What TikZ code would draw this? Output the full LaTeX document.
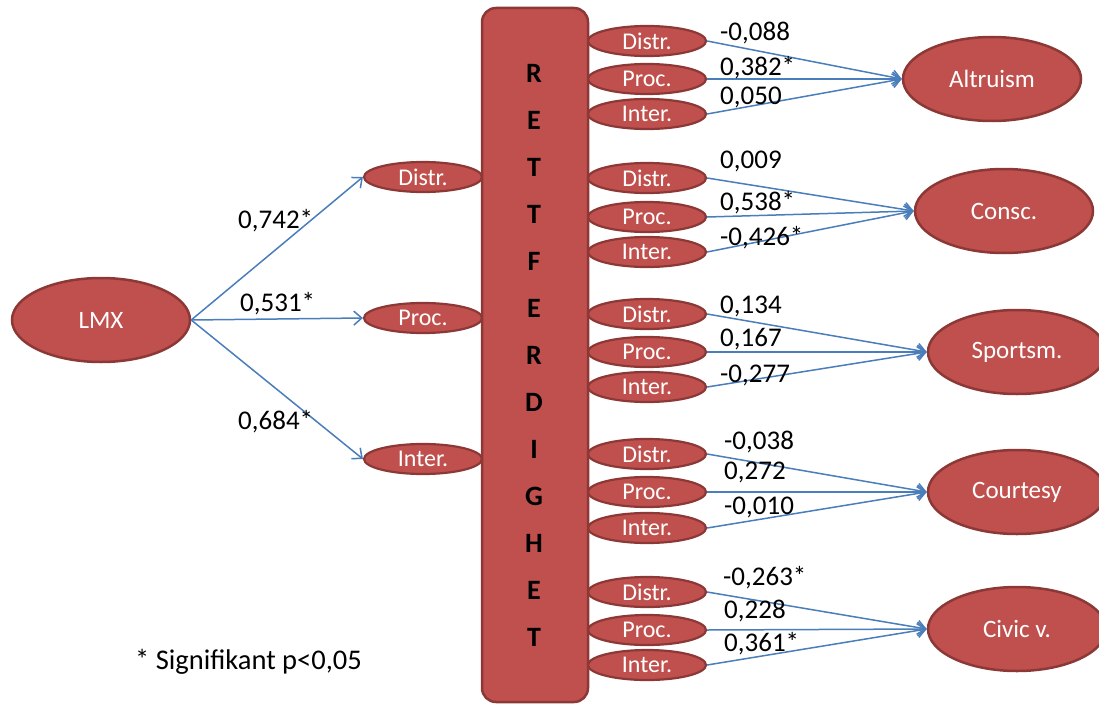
\documentclass[tikz,border=0pt]{standalone}
\usepackage{fontspec}
\setmainfont{Carlito}
\usetikzlibrary{shapes.geometric,arrows.meta}
\definecolor{redfill}{HTML}{C0504D}
\definecolor{redline}{HTML}{8C3836}
\definecolor{arrowblue}{HTML}{4A7EBB}
\tikzset{
 big/.style={ellipse, draw=redline, line width=2.5pt, fill=redfill, minimum width=178pt, minimum height=84pt, inner sep=0pt, text=white, font=\fontsize{25}{29}\selectfont},
 small/.style={ellipse, draw=redline, line width=2.2pt, fill=redfill, minimum width=118pt, minimum height=30pt, inner sep=0pt, text=white, font=\fontsize{24}{28}\selectfont},
 conn/.style={draw=arrowblue, line width=1.5pt, -{Straight Barb[length=8pt,width=14pt]}},
 val/.style={anchor=west, inner sep=0pt, font=\fontsize{27}{31}\selectfont},
 letter/.style={font=\bfseries\fontsize{28}{32}\selectfont, inner sep=0pt}
}
\begin{document}
\begin{tikzpicture}[x=1pt,y=-1pt]
\useasboundingbox (0,0) rectangle (1099,706);
% central box
\node[draw=redline, line width=2.5pt, fill=redfill, rounded corners=14pt, minimum width=106pt, minimum height=694pt, inner sep=0pt] (box) at (535,355) {};
\foreach \ch [count=\i from 0] in {R,E,T,T,F,E,R,D,I,G,H,E,T}
  \node[letter] (let\i) at (534,73+47*\i) {\ch};
% left part
\node[big] (lmx) at (101,320) {LMX};
\node[small] (ld) at (423,177) {Distr.};
\node[small] (lp) at (423,318) {Proc.};
\node[small] (li) at (423,459) {Inter.};
\draw[conn] (lmx.east) -- (ld.west);
\draw[conn] (lmx.east) -- (lp.west);
\draw[conn] (lmx.east) -- (li.west);
\node[val] (v1) at (238,221) {0,742*};
\node[val] (v2) at (240,304) {0,531*};
\node[val] (v3) at (238,422) {0,684*};
% targets
\node[big] (alt) at (992,79) {Altruism};
\node[big] (con) at (1004,211) {Consc.};
\node[big] (spo) at (1017,352) {Sportsm.};
\node[big] (cou) at (1017,492) {Courtesy};
\node[big] (civ) at (1017,629) {Civic v.};
% right small ellipses
\node[small] (d1) at (647,41) {Distr.};
\node[small] (p1) at (647,79) {Proc.};
\node[small] (i1) at (647,114) {Inter.};
\node[small] (d2) at (647,178) {Distr.};
\node[small] (p2) at (647,217) {Proc.};
\node[small] (i2) at (647,252) {Inter.};
\node[small] (d3) at (647,314) {Distr.};
\node[small] (p3) at (647,352) {Proc.};
\node[small] (i3) at (647,387) {Inter.};
\node[small] (d4) at (647,454) {Distr.};
\node[small] (p4) at (647,492) {Proc.};
\node[small] (i4) at (647,528) {Inter.};
\node[small] (d5) at (647,592) {Distr.};
\node[small] (p5) at (647,630) {Proc.};
\node[small] (i5) at (647,665) {Inter.};
% connectors
\foreach \n/\t in {1/alt,2/con,3/spo,4/cou,5/civ}{
  \draw[conn] (d\n.east) -- (\t.west);
  \draw[conn] (p\n.east) -- (\t.west);
  \draw[conn] (i\n.east) -- (\t.west);
}
% values
\node[val] (a1) at (720,33) {-0,088};
\node[val] (a2) at (720,68) {0,382*};
\node[val] (a3) at (720,97) {0,050};
\node[val] (b1) at (720,161) {0,009};
\node[val] (b2) at (720,203) {0,538*};
\node[val] (b3) at (720,238) {-0,426*};
\node[val] (c1) at (720,306) {0,134};
\node[val] (c2) at (720,339) {0,167};
\node[val] (c3) at (720,375) {-0,277};
\node[val] (e1) at (724,442) {-0,038};
\node[val] (e2) at (724,472) {0,272};
\node[val] (e3) at (724,507) {-0,010};
\node[val] (f1) at (723,578) {-0,263*};
\node[val] (f2) at (724,611) {0,228};
\node[val] (f3) at (724,644) {0,361*};
\node[val, font=\fontsize{28.5}{32}\selectfont] (note) at (135,662) {* Signifikant p<0,05};
\end{tikzpicture}
\end{document}
